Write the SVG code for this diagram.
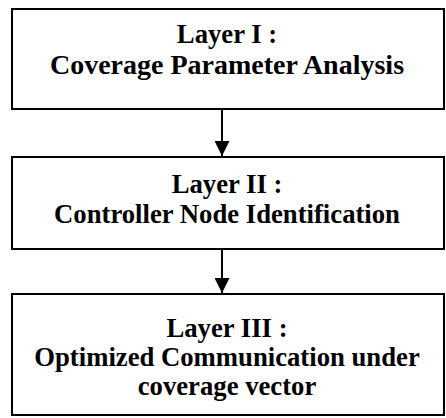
<svg xmlns="http://www.w3.org/2000/svg" width="446" height="418" viewBox="0 0 446 418">
<defs>
<marker id="ah" markerWidth="16" markerHeight="15" refX="15" refY="7.5" orient="auto" markerUnits="userSpaceOnUse">
<path d="M0,0 L15,7.5 L0,15 Z" fill="#000"/>
</marker>
</defs>
<style>
.box{fill:#fff;stroke:#000;stroke-width:2}
.t{font-family:"Liberation Serif","Times New Roman",serif;font-weight:bold;font-size:26.7px;text-anchor:middle;fill:#000}
.c{stroke:#000;stroke-width:2;fill:none}
</style>
<rect width="446" height="418" fill="#fff"/>
<g id="layer1">
<rect class="box" x="12" y="9" width="432" height="100"/>
<text class="t" x="227" y="43">Layer I :</text>
<text class="t" x="227" y="74" style="font-size:28px">Coverage Parameter Analysis</text>
</g>
<g id="layer2">
<rect class="box" x="12" y="157" width="432" height="92"/>
<text class="t" x="227" y="193">Layer II :</text>
<text class="t" x="227" y="223">Controller Node Identification</text>
</g>
<g id="layer3">
<rect class="box" x="12" y="294" width="432" height="121"/>
<text class="t" x="227" y="337">Layer III :</text>
<text class="t" x="227" y="366">Optimized Communication under</text>
<text class="t" x="227" y="395">coverage vector</text>
</g>
<g id="connectors">
<line class="c" x1="222" y1="110" x2="222" y2="156" marker-end="url(#ah)"/>
<line class="c" x1="222" y1="250" x2="222" y2="293" marker-end="url(#ah)"/>
</g>
</svg>
